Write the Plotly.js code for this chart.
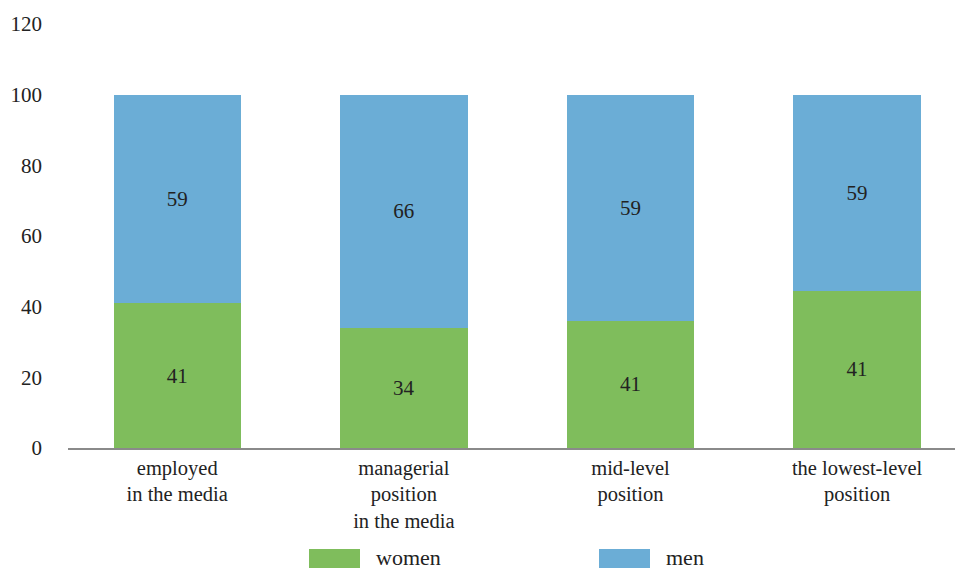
<!DOCTYPE html>
<html>
<head>
<meta charset="utf-8">
<script src="https://cdn.plot.ly/plotly-3.0.1.min.js"></script>
</head>
<body style="margin:0">
<div id="chart" style="width:955px;height:569px;"></div>
<script>
// Categories (x-axis labels)
const categories = [
  "employed<br>in the media",
  "managerial<br>position<br>in the media",
  "mid-level<br>position",
  "the lowest-level<br>position"
];
// Bar heights as drawn in the picture
const womenHeights = [41, 34, 36, 44.5];
const menHeights = [59, 66, 64, 55.5];
// Value labels as printed on the bars
const womenLabels = ["41", "34", "41", "41"];
const menLabels = ["59", "66", "59", "59"];
const seriesNames = ["women", "men"];
const colors = {women: "#7fbd5c", men: "#6badd6"};

function numFont() { return {family: "Liberation Serif", size: 21, color: "#222222"}; }
function wordFont(s) { return {family: "Liberation Serif", size: s || 22, color: "#222222"}; }

const traces = [
  {type: "bar", name: seriesNames[0], x: categories, y: womenHeights, text: womenLabels,
   textposition: "inside", insidetextanchor: "middle", textfont: numFont(),
   marker: {color: colors.women}, showlegend: false, hoverinfo: "skip"},
  {type: "bar", name: seriesNames[1], x: categories, y: menHeights, text: menLabels,
   textposition: "inside", insidetextanchor: "middle", textfont: numFont(),
   marker: {color: colors.men}, showlegend: false, hoverinfo: "skip"}
];

// legend built from series names/colors
const L = 68, R = 955, T = 24, B = 448;
const px = v => (v - L) / (R - L);
const py = v => (B - v) / (B - T);
const legendItems = [
  {name: seriesNames[0], color: colors.women, x0: 309, x1: 360, tx: 375},
  {name: seriesNames[1], color: colors.men, x0: 599, x1: 650, tx: 665}
];
const shapes = legendItems.map(it => ({
  type: "rect", xref: "paper", yref: "paper",
  x0: px(it.x0), x1: px(it.x1), y0: py(568), y1: py(549),
  fillcolor: it.color, line: {width: 0}
}));
const annotations = legendItems.map(it => ({
  xref: "paper", yref: "paper", x: px(it.tx), y: py(557.5),
  xanchor: "left", yanchor: "middle", text: it.name, showarrow: false,
  font: wordFont(22), borderpad: 0
}));

const layout = {
  width: 955, height: 569,
  margin: {l: L, r: 955 - R, t: T, b: 569 - B},
  paper_bgcolor: "#ffffff", plot_bgcolor: "#ffffff",
  barmode: "stack", bargap: 0.438,
  xaxis: {
    type: "category", range: [-0.482, 3.432],
    showline: true, linecolor: "#8a8a8a", linewidth: 2,
    ticks: "", showgrid: false, zeroline: false,
    tickfont: wordFont(20.5), fixedrange: true
  },
  yaxis: {
    range: [0, 120], dtick: 20, tick0: 0,
    showline: false, showgrid: false, zeroline: false,
    ticks: "", tickfont: numFont(), ticklabelstandoff: 25, fixedrange: true
  },
  shapes: shapes,
  annotations: annotations,
  showlegend: false
};

Plotly.newPlot("chart", traces, layout, {displayModeBar: false});
</script>
</body>
</html>
